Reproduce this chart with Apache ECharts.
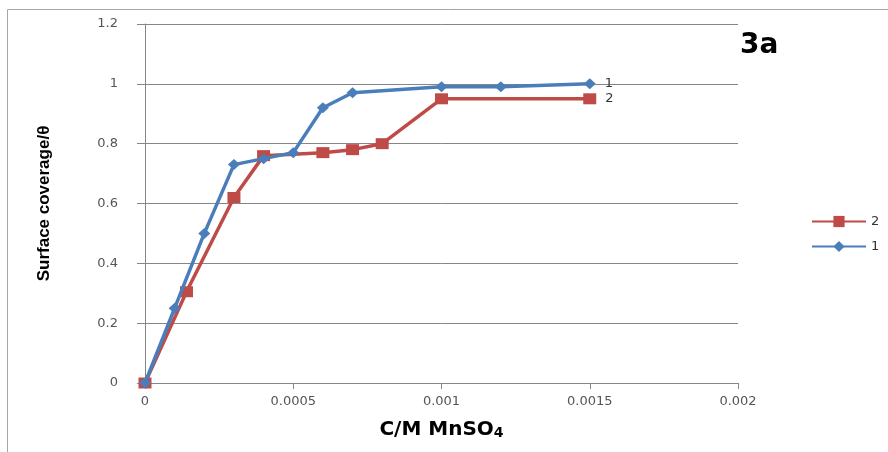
<!DOCTYPE html>
<html>
<head>
<meta charset="utf-8">
<script src="https://cdn.jsdelivr.net/npm/echarts@6/dist/echarts.min.js"></script>
<style>
html,body{margin:0;padding:0;background:#fff;}
#chart{width:888px;height:452px;}
</style>
</head>
<body>
<div id="chart"></div>
<script>
// Series 1 (blue, diamonds)
const series1X = [0, 0.0001, 0.0002, 0.0003, 0.0004, 0.0005, 0.0006, 0.0007, 0.001, 0.0012, 0.0015];
const series1Y = [0, 0.25, 0.5, 0.73, 0.75, 0.77, 0.92, 0.97, 0.99, 0.99, 1.0];
// Series 2 (red, squares)
const series2X = [0, 0.00014, 0.0003, 0.0004, 0.0006, 0.0007, 0.0008, 0.001, 0.0015];
const series2Y = [0, 0.305, 0.62, 0.76, 0.77, 0.78, 0.80, 0.95, 0.95];
const seriesNames = ['2', '1'];
const xTickLabels = ['0', '0.0005', '0.001', '0.0015', '0.002'];
const yTickLabels = ['0', '0.2', '0.4', '0.6', '0.8', '1', '1.2'];
const titleText = '3a';
const xAxisTitle = 'C/M MnSO';
const xAxisSub = '4';
const yAxisTitle = 'Surface coverage/\u03B8';

const pairs = (xs, ys) => xs.map((x, i) => [x, ys[i]]);
const lastLabel = (n, len) => ({
  show: true,
  position: 'right',
  distance: 9,
  color: '#333',
  fontFamily: 'DejaVu Sans',
  fontSize: 13,
  formatter: p => (p.dataIndex === len - 1 ? n : '')
});

const chart = echarts.init(document.getElementById('chart'));
chart.setOption({
  animation: false,
  backgroundColor: '#fff',
  title: {
    text: titleText,
    left: 735,
    top: 27,
    textStyle: {fontFamily: 'DejaVu Sans', fontWeight: 'bold', fontSize: 28, color: '#000'}
  },
  graphic: [{
    type: 'rect',
    shape: {x: 7.5, y: 9.5, width: 900, height: 500},
    style: {fill: 'none', stroke: '#a6a6a6', lineWidth: 1},
    silent: true,
    z: -1
  }],
  legend: {
    orient: 'vertical',
    left: 806,
    top: 210,
    itemWidth: 54,
    itemHeight: 14,
    itemGap: 12,
    data: seriesNames,
    textStyle: {fontFamily: 'DejaVu Sans', fontSize: 13, color: '#333'}
  },
  grid: {left: 145, right: 150, top: 24, bottom: 69},
  xAxis: {
    type: 'value',
    min: 0,
    max: 0.002,
    interval: 0.0005,
    name: '{m|' + xAxisTitle + '}{s|' + xAxisSub + '}',
    nameLocation: 'middle',
    nameGap: 37,
    nameTextStyle: {
      rich: {
        m: {fontFamily: 'DejaVu Sans', fontWeight: 'bold', fontSize: 20, color: '#000'},
        s: {fontFamily: 'DejaVu Sans', fontWeight: 'bold', fontSize: 14, color: '#000', verticalAlign: 'bottom', padding: [4, 0, 0, 0]}
      }
    },
    axisLine: {onZero: false, lineStyle: {color: '#868686', width: 1}},
    axisTick: {show: true, inside: false, length: 6, lineStyle: {color: '#868686'}},
    axisLabel: {
      margin: 12,
      fontFamily: 'DejaVu Sans',
      fontSize: 13,
      color: '#555',
      formatter: (v, i) => xTickLabels[Math.round(v / 0.0005)]
    },
    splitLine: {show: false}
  },
  yAxis: {
    type: 'value',
    min: 0,
    max: 1.2,
    interval: 0.2,
    name: yAxisTitle,
    nameLocation: 'middle',
    nameGap: 92,
    nameRotate: 90,
    nameTextStyle: {fontFamily: 'Liberation Sans', fontWeight: 'bold', fontSize: 17, color: '#000'},
    axisLine: {show: true, lineStyle: {color: '#868686', width: 1}},
    axisTick: {show: true, inside: false, length: 8, lineStyle: {color: '#868686'}},
    axisLabel: {
      margin: 27,
      fontFamily: 'DejaVu Sans',
      fontSize: 13,
      color: '#555',
      formatter: v => yTickLabels[Math.round(v / 0.2)]
    },
    splitLine: {show: true, lineStyle: {color: '#868686', width: 1}}
  },
  series: [
    {
      name: seriesNames[0],
      type: 'line',
      data: pairs(series2X, series2Y),
      symbol: 'rect',
      symbolSize: [13, 11],
      lineStyle: {color: '#be4b48', width: 3.5},
      itemStyle: {color: '#be4b48'},
      label: lastLabel(seriesNames[0], series2X.length),
      z: 2
    },
    {
      name: seriesNames[1],
      type: 'line',
      data: pairs(series1X, series1Y),
      symbol: 'diamond',
      symbolSize: [12, 11],
      lineStyle: {color: '#4a7ebb', width: 3.5},
      itemStyle: {color: '#4a7ebb'},
      label: lastLabel(seriesNames[1], series1X.length),
      z: 3
    }
  ]
});
</script>
</body>
</html>
